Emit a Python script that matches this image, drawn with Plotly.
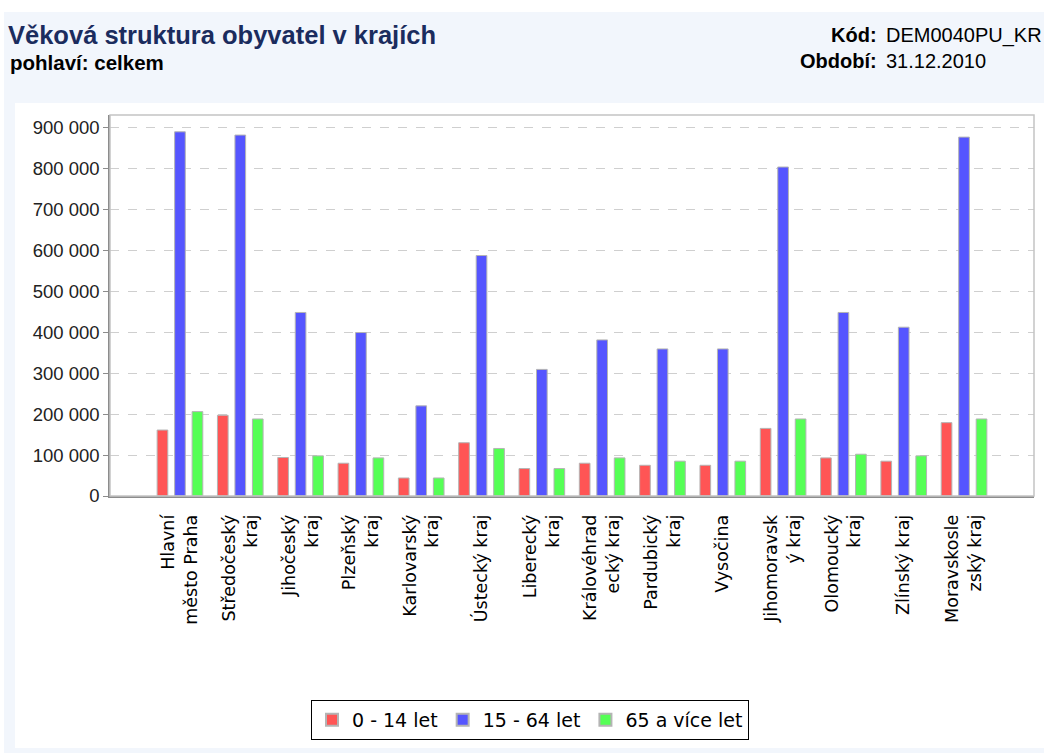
import plotly.graph_objects as go

regions = ["Hlavní město Praha", "Středočeský kraj", "Jihočeský kraj", "Plzeňský kraj",
           "Karlovarský kraj", "Ústecký kraj", "Liberecký kraj", "Královéhradecký kraj",
           "Pardubický kraj", "Vysočina", "Jihomoravský kraj", "Olomoucký kraj",
           "Zlínský kraj", "Moravskoslezský kraj"]
tick_labels = ["Hlavní<br>město Praha", "Středočeský<br>kraj", "Jihočeský<br>kraj", "Plzeňský<br>kraj",
               "Karlovarský<br>kraj", "Ústecký kraj", "Liberecký<br>kraj", "Královéhrad<br>ecký kraj",
               "Pardubický<br>kraj", "Vysočina", "Jihomoravsk<br>ý kraj", "Olomoucký<br>kraj",
               "Zlínský kraj", "Moravskosle<br>zský kraj"]
age_0_14 = [161000, 197000, 94000, 80000, 44000, 130000, 67000, 80000, 75000, 75000, 165000, 93000, 85000, 179000]
age_15_64 = [889000, 881000, 448000, 399000, 220000, 587000, 309000, 381000, 359000, 359000, 803000, 448000, 412000, 876000]
age_65 = [206000, 188000, 98000, 93000, 44000, 116000, 67000, 93000, 85000, 85000, 188000, 102000, 98000, 188000]
series_names = ["0 - 14 let", "15 - 64 let", "65 a více let"]
colors = ["#ff5555", "#5555ff", "#55ff55"]

W, H = 1044, 753
L, R, T, B = 110, 1034, 115, 496


def px(x):
    return (x - L) / (R - L)


def py(y):
    return (B - y) / (B - T)


fig = go.Figure()
for name, vals, col in zip(series_names, [age_0_14, age_15_64, age_65], colors):
    fig.add_trace(go.Bar(x=regions, y=vals, name=name,
                         marker=dict(color=col, line=dict(color="#b4b4b4", width=1))))

fig.update_layout(
    width=W, height=H,
    margin=dict(l=L, r=W - R, t=T, b=H - B, autoexpand=False),
    paper_bgcolor="white", plot_bgcolor="white",
    barmode="group", bargap=0.13, bargroupgap=0.39,
    separators=", ",
    showlegend=True,
    legend=dict(orientation="h", x=px(530), xanchor="center", y=py(720), yanchor="middle",
                bordercolor="black", borderwidth=1, bgcolor="white",
                font=dict(family="DejaVu Sans", size=19, color="black"),
                itemsizing="constant", tracegroupgap=0),
    title=dict(text="<b>Věková struktura obyvatel v krajích</b>", xref="container", yref="container",
               x=8 / W, xanchor="left", y=1 - 35 / H, yanchor="middle",
               font=dict(family="Liberation Sans", size=25.5, color="#1b2c5e")),
    xaxis=dict(type="category", range=[-1.16, 14.16], tickmode="array", tickvals=regions,
               ticktext=tick_labels, tickangle=-90, ticks="", ticklabelstandoff=10,
               tickfont=dict(family="DejaVu Sans", size=17.5, color="black"),
               showline=True, linecolor="#8c8c8c", linewidth=1.5, showgrid=False),
    yaxis=dict(range=[0, 930000], dtick=100000, tickformat=",d",
               ticks="outside", ticklen=5, tickcolor="#8c8c8c",
               tickfont=dict(family="Liberation Sans", size=18.5, color="#222222"),
               showline=True, linecolor="#8c8c8c", linewidth=1.5,
               showgrid=True, gridcolor="#cfcfcf", griddash="dash", gridwidth=1,
               zeroline=False),
    font=dict(family="Liberation Sans"),
)

shapes = [
    dict(type="rect", xref="paper", yref="paper", x0=px(4), x1=px(1044), y0=py(753), y1=py(12),
         fillcolor="#f2f6fc", line=dict(width=0), layer="below"),
    dict(type="rect", xref="paper", yref="paper", x0=px(15), x1=px(1044), y0=py(748), y1=py(103),
         fillcolor="white", line=dict(width=0), layer="below"),
    dict(type="rect", xref="paper", yref="paper", x0=0, x1=1, y0=0, y1=1,
         fillcolor="rgba(0,0,0,0)", line=dict(color="#c4c4c4", width=1.5), layer="above"),
]
fig.update_layout(shapes=shapes)

annots = [
    dict(text="<b>pohlaví: celkem</b>", x=px(8), y=py(62), xanchor="left", yanchor="middle",
         font=dict(family="Liberation Sans", size=20.5, color="black")),
    dict(text="<b>Kód:</b>", x=px(879), y=py(35), xanchor="right", yanchor="middle",
         font=dict(family="Liberation Sans", size=20, color="black")),
    dict(text="DEM0040PU_KR", x=px(884), y=py(35), xanchor="left", yanchor="middle",
         font=dict(family="Liberation Sans", size=20, color="black")),
    dict(text="<b>Období:</b>", x=px(879), y=py(61), xanchor="right", yanchor="middle",
         font=dict(family="Liberation Sans", size=20, color="black")),
    dict(text="31.12.2010", x=px(884), y=py(61), xanchor="left", yanchor="middle",
         font=dict(family="Liberation Sans", size=20, color="black")),
]
for a in annots:
    a.update(xref="paper", yref="paper", showarrow=False)
fig.update_layout(annotations=annots)

fig.write_html("out.html", config={"displayModeBar": False},
               post_script="document.body.style.margin='0';document.body.style.overflow='hidden';")
